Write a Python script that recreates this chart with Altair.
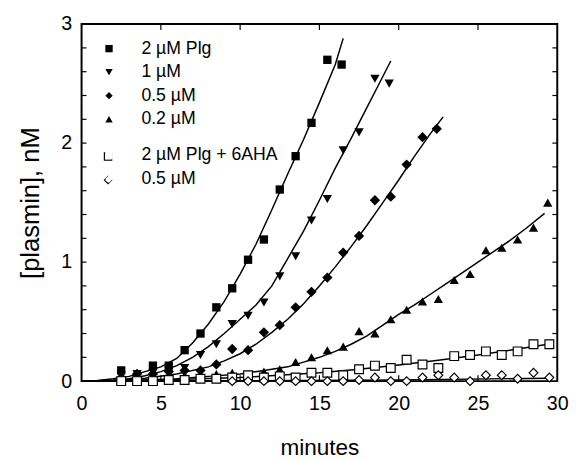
import altair as alt
import pandas as pd

# ---------------- data ----------------
labels_filled = ["2 µM Plg", "1 µM", "0.5 µM", "0.2 µM"]
labels_open = ["2 µM Plg + 6AHA", "0.5 µM"]

# 2 uM Plg (filled squares)
t_s1 = [2.5, 4.5, 5.5, 6.5, 7.5, 8.5, 9.5, 10.5, 11.5, 12.5, 13.5, 14.5, 15.5, 16.4]
y_s1 = [0.09, 0.13, 0.13, 0.26, 0.40, 0.62, 0.78, 1.02, 1.19, 1.61, 1.89, 2.17, 2.70, 2.66]
# 1 uM (filled down-triangles)
t_s2 = [2.5, 3.5, 4.5, 5.5, 6.5, 7.5, 8.5, 9.5, 10.5, 11.5, 12.5, 13.5, 14.5, 15.5, 16.5, 17.5, 18.5, 19.4]
y_s2 = [0.05, 0.06, 0.07, 0.09, 0.11, 0.22, 0.31, 0.48, 0.55, 0.66, 0.88, 1.05, 1.35, 1.53, 1.94, 2.09, 2.54, 2.50]
# 0.5 uM (filled diamonds)
t_s3 = [2.5, 3.5, 4.5, 5.5, 6.5, 7.5, 8.5, 9.5, 10.5, 11.5, 12.5, 13.5, 14.5, 15.5, 16.5, 17.5,
        18.5, 19.5, 20.5, 21.5, 22.4]
y_s3 = [0.03, 0.06, 0.06, 0.08, 0.09, 0.09, 0.14, 0.27, 0.26, 0.41, 0.47, 0.62, 0.75, 0.87, 1.08, 1.22,
        1.52, 1.55, 1.82, 2.05, 2.12]
# 0.2 uM (filled up-triangles)
t_s4 = [2.5, 3.5, 4.5, 5.5, 6.5, 7.5, 8.5, 9.5, 10.5, 11.5, 12.5, 13.5, 14.5, 15.5, 16.5, 17.5,
        18.5, 19.5, 20.5, 21.5, 22.5, 23.5, 24.5, 25.5, 26.5, 27.5, 28.5, 29.4]
y_s4 = [0.03, 0.06, 0.04, 0.05, 0.05, 0.06, 0.06, 0.07, 0.06, 0.08, 0.10, 0.16, 0.20, 0.26, 0.29, 0.42,
        0.40, 0.52, 0.60, 0.67, 0.69, 0.85, 0.90, 1.10, 1.12, 1.19, 1.29, 1.50]
# 2 uM Plg + 6AHA (open squares)
t_s5 = [2.5, 3.5, 4.5, 5.5, 6.5, 7.5, 8.5, 9.5, 10.5, 11.5, 12.5, 13.5, 14.5, 15.5, 16.5, 17.5,
        18.5, 19.5, 20.5, 21.5, 22.5, 23.5, 24.5, 25.5, 26.5, 27.5, 28.5, 29.5]
y_s5 = [0.0, 0.0, 0.0, 0.01, 0.01, 0.02, 0.02, 0.03, 0.05, 0.03, 0.04, 0.03, 0.07, 0.07, 0.05, 0.10,
        0.13, 0.11, 0.18, 0.14, 0.11, 0.21, 0.22, 0.25, 0.22, 0.25, 0.31, 0.31]
# 0.5 uM + 6AHA (open diamonds)
t_s6 = [9.5, 10.5, 11.5, 12.5, 13.5, 14.5, 15.5, 16.5, 17.5, 18.5, 19.5, 20.5, 21.5, 22.5, 23.5,
        24.5, 25.5, 26.5, 27.5, 28.5, 29.5]
y_s6 = [0.0, 0.0, 0.0, 0.0, 0.0, 0.0, 0.0, 0.0, 0.01, 0.03, 0.0, 0.0, 0.03, 0.05, 0.03,
        0.0, 0.05, 0.05, 0.02, 0.07, 0.03]

# fitted curves
ft_1 = [0, 1, 2, 3, 4, 5, 6, 7, 8, 9, 10, 11, 12, 13, 14, 15, 16, 16.5]
fy_1 = [0, 0.005, 0.02, 0.04, 0.08, 0.12, 0.19, 0.32, 0.48, 0.67, 0.90, 1.15, 1.44, 1.74, 2.03, 2.34, 2.66, 2.88]
ft_2 = [0, 2, 3, 4, 5, 6, 7, 8, 9, 10, 11, 12, 13, 14, 15, 16, 17, 18, 19, 19.5]
fy_2 = [0, 0.008, 0.02, 0.045, 0.08, 0.13, 0.20, 0.29, 0.40, 0.52, 0.64, 0.80, 1.03, 1.26, 1.52, 1.79, 2.04, 2.30, 2.56, 2.69]
ft_3 = [0, 2, 4, 6, 8, 9, 10, 11, 12, 13, 14, 15, 16, 17, 18, 19, 20, 21, 22, 22.8]
fy_3 = [0, 0.005, 0.025, 0.06, 0.12, 0.17, 0.23, 0.31, 0.41, 0.52, 0.65, 0.80, 0.96, 1.13, 1.31, 1.50, 1.69, 1.89, 2.08, 2.22]
ft_4 = [0, 4, 6, 8, 10, 12, 13, 14, 15, 16, 17, 18, 19, 20, 21, 22, 23, 24, 25, 26, 27, 28, 29.2]
fy_4 = [0, 0.01, 0.02, 0.04, 0.06, 0.10, 0.12, 0.16, 0.20, 0.25, 0.31, 0.38, 0.47, 0.56, 0.64, 0.73, 0.82, 0.91, 1.00, 1.09, 1.18, 1.28, 1.41]
ft_5 = [0, 5, 10, 15, 17.5, 20, 22.5, 25, 27.5, 29.4]
fy_5 = [0, 0.01, 0.03, 0.07, 0.10, 0.135, 0.175, 0.22, 0.27, 0.31]
ft_6 = [0, 10, 20, 29.5]
fy_6 = [0, 0.003, 0.01, 0.025]

x_tick_vals = [0, 5, 10, 15, 20, 25, 30]
y_tick_vals = [0, 1, 2, 3]
x_minor = [5, 10, 15, 20, 25]
y_minor = [0.2, 0.4, 0.6, 0.8, 1.0, 1.2, 1.4, 1.6, 1.8, 2.0, 2.2, 2.4, 2.6, 2.8]

# ---------------- tables ----------------
def pts(label, key, ts, ys, lab_field="label"):
    return [{lab_field: label, "key": key, "t": t, "y": y} for t, y in zip(ts, ys)]

df_filled = pd.DataFrame(
    pts(labels_filled[0], "s1", t_s1, y_s1) + pts(labels_filled[1], "s2", t_s2, y_s2)
    + pts(labels_filled[2], "s3", t_s3, y_s3) + pts(labels_filled[3], "s4", t_s4, y_s4))
df_open = pd.DataFrame(
    pts(labels_open[0], "s5", t_s5, y_s5, "cond") + pts(labels_open[1], "s6", t_s6, y_s6, "cond"))
df_fit = pd.DataFrame(
    pts("f1", "f1", ft_1, fy_1) + pts("f2", "f2", ft_2, fy_2) + pts("f3", "f3", ft_3, fy_3)
    + pts("f4", "f4", ft_4, fy_4) + pts("f5", "f5", ft_5, fy_5) + pts("f6", "f6", ft_6, fy_6))
df_xt = pd.DataFrame({"t": x_minor})
df_yt = pd.DataFrame({"y": y_minor})
df_one = pd.DataFrame({"k": [0]})

W, H = 485, 364
FONT = "Liberation Sans"

x_axis = alt.Axis(values=x_tick_vals, title="minutes", ticks=False, domain=False, grid=False,
                  labelPadding=13, titlePadding=24, labelFlush=False)
y_axis = alt.Axis(values=y_tick_vals, title="[plasmin], nM", ticks=False, domain=False, grid=False,
                  labelPadding=10, titlePadding=18, labelFlush=False, titleFontSize=26)
X = alt.X("t:Q", scale=alt.Scale(domain=[0, 30], nice=False, zero=False), axis=x_axis)
Y = alt.Y("y:Q", scale=alt.Scale(domain=[0, 3], nice=False, zero=False), axis=y_axis)

lines = alt.Chart(df_fit).mark_line(color="black", strokeWidth=1.5).encode(
    x=X, y=Y, detail="key:N", order="t:Q")

filled = alt.Chart(df_filled).mark_point(filled=True, color="black", opacity=1).encode(
    x=X, y=Y,
    shape=alt.Shape("label:N",
                    scale=alt.Scale(domain=labels_filled,
                                    range=["square", "triangle-down", "diamond", "triangle-up"]),
                    legend=alt.Legend(title=None, orient="none", legendX=19, legendY=16,
                                      labelFontSize=18, labelFont=FONT, labelColor="black",
                                      symbolSize=56, symbolFillColor="black",
                                      symbolStrokeColor="black", symbolStrokeWidth=1.2,
                                      labelOffset=24, rowPadding=6, padding=0)),
    size=alt.Size("sz:Q", scale=None),
).transform_calculate(
    sz="datum.key == 's1' ? 72 : (datum.key == 's3' ? 110 : 90)"
)

opened = alt.Chart(df_open).mark_point(filled=False, color="black", fill="white",
                                       fillOpacity=1, opacity=1, strokeWidth=1.2,
                                       size=80).encode(
    x=X, y=Y,
    shape=alt.Shape("cond:N",
                    scale=alt.Scale(domain=labels_open, range=["square", "diamond"]),
                    legend=alt.Legend(title=None, orient="none", legendX=19, legendY=125,
                                      labelFontSize=18, labelFont=FONT, labelColor="black",
                                      symbolSize=60, symbolFillColor="white",
                                      symbolStrokeColor="black", symbolStrokeWidth=1.2,
                                      symbolOpacity=1,
                                      labelOffset=24, rowPadding=6, padding=0)),
)

# open-symbol keys for the second legend group (drawn explicitly so the outline shows)
key_style = dict(filled=False, color="black", fill="white", fillOpacity=1, opacity=1,
                 strokeWidth=1.2, size=56)
key_sq = alt.Chart(df_one).mark_point(shape="square", **key_style).encode(
    x=alt.value(27), y=alt.value(135))
key_di = alt.Chart(df_one).mark_point(shape="diamond", **key_style).encode(
    x=alt.value(27), y=alt.value(159))

tick_style = dict(color="black", strokeWidth=1.2)
yt_left = alt.Chart(df_yt).mark_rule(**tick_style).encode(y=Y, x=alt.value(0), x2=alt.value(5))
yt_right = alt.Chart(df_yt).mark_rule(**tick_style).encode(y=Y, x=alt.value(W), x2=alt.value(W - 5))
xt_bottom = alt.Chart(df_xt).mark_rule(**tick_style).encode(x=X, y=alt.value(H), y2=alt.value(H - 6))
xt_top = alt.Chart(df_xt).mark_rule(**tick_style).encode(x=X, y=alt.value(0), y2=alt.value(6))

chart = alt.layer(
    yt_left, yt_right, xt_bottom, xt_top, lines, filled, opened, key_sq, key_di
).resolve_scale(shape="independent").resolve_legend(shape="independent").properties(
    width=W, height=H,
    autosize=alt.AutoSizeParams(type="none"),
    padding={"left": 75, "top": 12, "right": 14, "bottom": 76},
    background="white",
).configure_view(
    stroke="black", strokeWidth=2
).configure_axis(
    labelFont=FONT, titleFont=FONT, labelFontSize=20, titleFontSize=23,
    labelColor="black", titleColor="black", titleFontWeight="normal",
)

chart.save("out.html", embed_options={"renderer": "svg", "actions": False})
